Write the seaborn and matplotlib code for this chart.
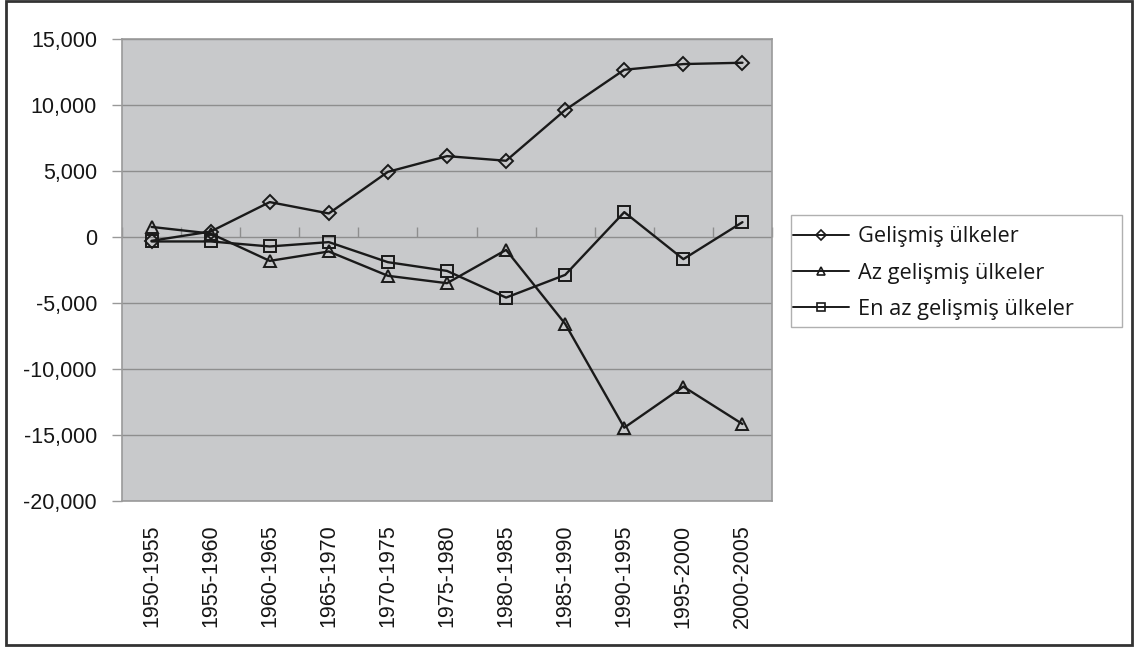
import matplotlib
matplotlib.use("Agg")
import matplotlib.pyplot as plt
from matplotlib.patches import Rectangle
from matplotlib.lines import Line2D
from matplotlib.ticker import FuncFormatter
import seaborn as sns
import pandas as pd
import numpy as np

periods = ["1950-1955", "1955-1960", "1960-1965", "1965-1970", "1970-1975", "1975-1980",
           "1980-1985", "1985-1990", "1990-1995", "1995-2000", "2000-2005"]
gelismis = [-300, 400, 2630, 1770, 4920, 6110, 5760, 9600, 12650, 13080, 13180]
az_gelismis = [750, 250, -1820, -1110, -2950, -3510, -990, -6590, -14450, -11340, -14170]
en_az_gelismis = [-350, -350, -730, -400, -1920, -2580, -4600, -2880, 1870, -1690, 1110]
series_names = ["Gelişmiş ülkeler", "Az gelişmiş ülkeler", "En az gelişmiş ülkeler"]
y_ticks = [15000, 10000, 5000, 0, -5000, -10000, -15000, -20000]

sns.set_style("white")
plt.rcParams["font.family"] = ["Liberation Sans", "DejaVu Sans"]

W, H = 1136, 648
fig = plt.figure(figsize=(W / 100, H / 100), dpi=100)
ax = fig.add_axes([122 / W, 1 - 501 / H, (772 - 122) / W, (501 - 38.7) / H])
ax.set_facecolor("#c8c9cb")

x_idx = list(range(len(periods)))
line_color = "#1a1a1a"
markers = ["D", "^", "s"]
msizes = [7.5, 9.0, 8.0]
for vals, name, mk, ms in zip([gelismis, az_gelismis, en_az_gelismis], series_names, markers, msizes):
    df = pd.DataFrame({"x": x_idx, "y": vals})
    sns.lineplot(data=df, x="x", y="y", ax=ax, color=line_color, lw=1.7, marker=mk,
                 markersize=ms, markerfacecolor="none", markeredgecolor=line_color,
                 markeredgewidth=1.4, sort=False, zorder=3)

ax.set_xlim(-0.5, len(periods) - 0.5)
ax.set_ylim(-20000, 15000)
ax.set_yticks(y_ticks)
ax.yaxis.set_major_formatter(FuncFormatter(lambda v, p: f"{int(v):,}"))
ax.set_xticks(x_idx)
ax.set_xticklabels(periods, rotation=90, fontsize=15.5, color="#161616")
ax.tick_params(axis="x", length=0, pad=17)
ax.tick_params(axis="y", length=7, color="#999999", width=1, pad=11, labelsize=15.5,
               labelcolor="#161616", left=True)
ax.set_xlabel("")
ax.set_ylabel("")
ax.grid(axis="y", color="#8e8e8e", lw=1.0, zorder=1)
ax.set_axisbelow(True)
for s in ax.spines.values():
    s.set_color("#9a9a9a")
    s.set_linewidth(1.2)

# category axis crossing at zero with tick marks at category boundaries
sec = ax.secondary_xaxis(20000 / 35000)
sec.set_xticks(np.arange(-0.5, len(periods), 1.0))
sec.set_xticklabels([])
sec.tick_params(length=7, color="#8e8e8e", width=1, direction="out")
sec.spines["bottom"].set_visible(False)
sec.spines["top"].set_visible(False)

handles = [Line2D([0], [0], color=line_color, lw=1.4, marker=m, markersize=s * 0.7,
                  markerfacecolor="none", markeredgecolor=line_color, markeredgewidth=1.2)
           for m, s in zip(markers, msizes)]
leg = fig.legend(handles, series_names, loc="center left",
                 bbox_to_anchor=(793 / W, 1 - 273 / H),
                 prop={"family": "Open Sans", "size": 15.7}, frameon=False,
                 handlelength=2.55, handletextpad=0.45, labelspacing=0.7,
                 borderpad=0, borderaxespad=0)
for t in leg.get_texts():
    t.set_color("#161616")

# legend frame
fig.patches.append(Rectangle((791 / W, 1 - 327 / H), (1122 - 791) / W, (327 - 215) / H,
                             transform=fig.transFigure, fill=False,
                             edgecolor="#b0b0b0", lw=1.0))
# outer border
fig.patches.append(Rectangle((6 / W, 1 - 645 / H), (1132 - 6) / W, (645 - 1) / H,
                             transform=fig.transFigure, fill=False,
                             edgecolor="#333333", lw=2))

fig.savefig("out.png", dpi=100)
